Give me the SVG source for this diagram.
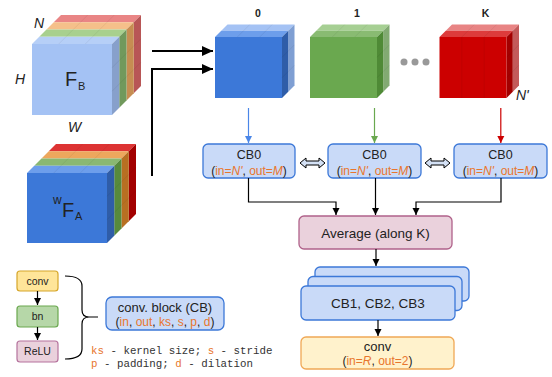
<svg xmlns="http://www.w3.org/2000/svg" width="552" height="377" viewBox="0 0 552 377">
<style>
text{font-family:"Liberation Sans",Arial,sans-serif;fill:#222}
.o{fill:#e8762d}
.it{font-style:italic}
.mono{font-family:"Liberation Mono","Courier New",monospace;font-size:10.8px;fill:#333}
.cb{fill:#c9daf8;stroke:#3c78d8;stroke-width:1.3}
.ln{fill:none;stroke:#000;stroke-width:1.2}
.grid{fill:none;stroke:#000;stroke-opacity:0.08;stroke-width:0.8}
</style>
<defs>
<marker id="ak" markerUnits="userSpaceOnUse" markerWidth="8" markerHeight="8" refX="7" refY="4" orient="auto"><path d="M0,0.5 L7,4 L0,7.5 z" fill="#000"/></marker>
<marker id="akb" markerUnits="userSpaceOnUse" markerWidth="12" markerHeight="10" refX="11" refY="5" orient="auto"><path d="M0,0 L11,5 L0,10 z" fill="#000"/></marker>
<marker id="ab" markerUnits="userSpaceOnUse" markerWidth="8" markerHeight="8" refX="7" refY="4" orient="auto"><path d="M0,0.5 L7,4 L0,7.5 z" fill="#4a86e8"/></marker>
<marker id="ag" markerUnits="userSpaceOnUse" markerWidth="8" markerHeight="8" refX="7" refY="4" orient="auto"><path d="M0,0.5 L7,4 L0,7.5 z" fill="#6aa84f"/></marker>
<marker id="ar" markerUnits="userSpaceOnUse" markerWidth="8" markerHeight="8" refX="7" refY="4" orient="auto"><path d="M0,0.5 L7,4 L0,7.5 z" fill="#cc0000"/></marker>
</defs>

<!-- F_B cube -->
<g id="cube-FB" transform="translate(32,44)">
<polygon points="21.75,-21.75 101.75,-21.75 109,-29 29,-29" fill="#e98585"/>
<polygon points="101.75,-21.75 109,-29 109,42 101.75,49.25" fill="#b85656"/>
<polygon points="14.5,-14.5 94.5,-14.5 101.75,-21.75 21.75,-21.75" fill="#f5c08a"/>
<polygon points="94.5,-14.5 101.75,-21.75 101.75,49.25 94.5,56.5" fill="#c68d52"/>
<polygon points="7.25,-7.25 87.25,-7.25 94.5,-14.5 14.5,-14.5" fill="#a8d08e"/>
<polygon points="87.25,-7.25 94.5,-14.5 94.5,56.5 87.25,63.75" fill="#71995c"/>
<polygon points="0,0 80,0 87.25,-7.25 7.25,-7.25" fill="#b6cff7"/>
<polygon points="80,0 87.25,-7.25 87.25,63.75 80,71" fill="#87a0cb"/>
<rect x="0" y="0" width="80" height="71" fill="#a4c2f4"/>
<path class="grid" d="M26.7,0 L55.7,-29 M53.3,0 L82.3,-29 M80,23.7 L109,-5.3 M80,47.3 L109,18.3"/>
<text x="33" y="42" font-size="20">F</text>
<text x="46" y="46" font-size="11">B</text>
</g>
<text x="34" y="28" font-size="14" class="it">N</text>
<text x="15" y="84" font-size="14" class="it">H</text>
<text x="68" y="132" font-size="14" class="it">W</text>

<!-- wF_A cube -->
<g id="cube-FA" transform="translate(27,173)">
<polygon points="21.75,-21.75 101.75,-21.75 109,-29 29,-29" fill="#dd3333"/>
<polygon points="101.75,-21.75 109,-29 109,41 101.75,48.25" fill="#a30000"/>
<polygon points="14.5,-14.5 94.5,-14.5 101.75,-21.75 21.75,-21.75" fill="#eda75d"/>
<polygon points="94.5,-14.5 101.75,-21.75 101.75,48.25 94.5,55.5" fill="#b86f22"/>
<polygon points="7.25,-7.25 87.25,-7.25 94.5,-14.5 14.5,-14.5" fill="#8ab872"/>
<polygon points="87.25,-7.25 94.5,-14.5 94.5,55.5 87.25,62.75" fill="#578a3c"/>
<polygon points="0,0 80,0 87.25,-7.25 7.25,-7.25" fill="#6d9eeb"/>
<polygon points="80,0 87.25,-7.25 87.25,62.75 80,70" fill="#2f5da8"/>
<rect x="0" y="0" width="80" height="70" fill="#3c78d8"/>
<path class="grid" d="M26.7,0 L55.7,-29 M53.3,0 L82.3,-29 M80,23.3 L109,-5.7 M80,46.7 L109,17.7"/>
<text x="26" y="31" font-size="12">w</text>
<text x="35" y="44" font-size="20">F</text>
<text x="48" y="47" font-size="11">A</text>
</g>

<!-- top cubes -->
<g id="cube-0" transform="translate(215,37)">
<polygon points="6.25,-6.25 73.25,-6.25 79.5,-12.5 12.5,-12.5" fill="#a4c2f4"/>
<polygon points="73.25,-6.25 79.5,-12.5 79.5,48.5 73.25,54.75" fill="#7f9fd3"/>
<polygon points="0,0 67,0 73.25,-6.25 6.25,-6.25" fill="#6d9eeb"/>
<polygon points="67,0 73.25,-6.25 73.25,54.75 67,61" fill="#2f5da8"/>
<rect x="0" y="0" width="67" height="61" fill="#3c78d8"/>
<path class="grid" d="M22.3,0 L34.8,-12.5 M44.7,0 L57.2,-12.5 M67,20.3 L79.5,7.8 M67,40.7 L79.5,28.2"/>
</g>
<text x="258" y="17" font-size="10.5" font-weight="bold" text-anchor="middle">0</text>

<g id="cube-1" transform="translate(310,37)">
<polygon points="6.25,-6.25 73.25,-6.25 79.5,-12.5 12.5,-12.5" fill="#a6cf93"/>
<polygon points="73.25,-6.25 79.5,-12.5 79.5,48.5 73.25,54.75" fill="#82aa72"/>
<polygon points="0,0 67,0 73.25,-6.25 6.25,-6.25" fill="#89bb72"/>
<polygon points="67,0 73.25,-6.25 73.25,54.75 67,61" fill="#4f8a36"/>
<rect x="0" y="0" width="67" height="61" fill="#6aa84f"/>
<path class="grid" d="M22.3,0 L34.8,-12.5 M44.7,0 L57.2,-12.5 M67,20.3 L79.5,7.8 M67,40.7 L79.5,28.2"/>
</g>
<text x="357" y="17" font-size="10.5" font-weight="bold" text-anchor="middle">1</text>

<g id="dots" fill="#999">
<circle cx="404" cy="62" r="3.5"/>
<circle cx="415" cy="62" r="3.5"/>
<circle cx="426" cy="62" r="3.5"/>
</g>

<g id="cube-K" transform="translate(439.5,37)">
<polygon points="6.25,-6.25 73.25,-6.25 79.5,-12.5 12.5,-12.5" fill="#e88484"/>
<polygon points="73.25,-6.25 79.5,-12.5 79.5,48.5 73.25,54.75" fill="#c35a5a"/>
<polygon points="0,0 67,0 73.25,-6.25 6.25,-6.25" fill="#dd3b3b"/>
<polygon points="67,0 73.25,-6.25 73.25,54.75 67,61" fill="#a30000"/>
<rect x="0" y="0" width="67" height="61" fill="#cc0000"/>
<path class="grid" d="M22.3,0 L22.3,61 M44.7,0 L44.7,61 M22.3,0 L34.8,-12.5 M44.7,0 L57.2,-12.5 M67,20.3 L79.5,7.8 M67,40.7 L79.5,28.2"/>
</g>
<text x="485.5" y="17" font-size="10.5" font-weight="bold" text-anchor="middle">K</text>
<text x="516" y="100" font-size="14" class="it">N'</text>

<!-- nodes -->
<g id="cb0-1">
<rect class="cb" x="203" y="144" width="92" height="34" rx="5"/>
<text x="249" y="158.5" font-size="12.5" text-anchor="middle">CB0</text>
<text x="249" y="174.5" font-size="12" text-anchor="middle">(<tspan class="o">in=</tspan><tspan class="o it">N'</tspan>, <tspan class="o">out=</tspan><tspan class="o it">M</tspan>)</text>
</g>
<g id="cb0-2">
<rect class="cb" x="328" y="144" width="93" height="34" rx="5"/>
<text x="374.5" y="158.5" font-size="12.5" text-anchor="middle">CB0</text>
<text x="374.5" y="174.5" font-size="12" text-anchor="middle">(<tspan class="o">in=</tspan><tspan class="o it">N'</tspan>, <tspan class="o">out=</tspan><tspan class="o it">M</tspan>)</text>
</g>
<g id="cb0-3">
<rect class="cb" x="454" y="144" width="93" height="34" rx="5"/>
<text x="500.5" y="158.5" font-size="12.5" text-anchor="middle">CB0</text>
<text x="500.5" y="174.5" font-size="12" text-anchor="middle">(<tspan class="o">in=</tspan><tspan class="o it">N'</tspan>, <tspan class="o">out=</tspan><tspan class="o it">M</tspan>)</text>
</g>
<g id="average">
<rect x="299" y="216" width="153" height="33" rx="5" fill="#ead1dc" stroke="#b0628a" stroke-width="1.3"/>
<text x="375.5" y="237.5" font-size="13.5" text-anchor="middle">Average (along K)</text>
</g>
<g id="cb123">
<rect class="cb" x="315" y="267" width="154" height="34" rx="5"/>
<rect class="cb" x="308" y="276.5" width="154" height="34" rx="5"/>
<rect class="cb" x="301" y="286" width="154" height="34" rx="5"/>
<text x="378" y="308" font-size="13.5" text-anchor="middle">CB1, CB2, CB3</text>
</g>
<g id="conv-out">
<rect x="301" y="337" width="153" height="32" rx="5" fill="#fff2cc" stroke="#f0a856" stroke-width="1.3"/>
<text x="377.5" y="351" font-size="13" text-anchor="middle">conv</text>
<text x="377.5" y="365" font-size="12" text-anchor="middle">(<tspan class="o">in=</tspan><tspan class="o it">R</tspan>, <tspan class="o">out=2</tspan>)</text>
</g>

<!-- legend -->
<g id="leg-conv">
<rect x="17" y="271" width="41" height="20" rx="3" fill="#ffe599" stroke="#d6a62a" stroke-width="1.2"/>
<text x="37.5" y="284.5" font-size="10.5" text-anchor="middle">conv</text>
</g>
<g id="leg-bn">
<rect x="17" y="306" width="41" height="21" rx="3" fill="#b6d7a8" stroke="#6aa84f" stroke-width="1.2"/>
<text x="37.5" y="320" font-size="10.5" text-anchor="middle">bn</text>
</g>
<g id="leg-relu">
<rect x="17" y="341" width="41" height="21" rx="3" fill="#ead1dc" stroke="#b5739d" stroke-width="1.2"/>
<text x="37.5" y="355" font-size="10.5" text-anchor="middle">ReLU</text>
</g>
<g id="conv-block">
<rect x="106" y="297" width="118" height="33" rx="6" fill="#c9daf8" stroke="#3c78d8" stroke-width="1.3"/>
<text x="165" y="312" font-size="13" text-anchor="middle">conv. block (CB)</text>
<text x="165" y="326" font-size="12" text-anchor="middle">(<tspan class="o">in</tspan>, <tspan class="o">out</tspan>, <tspan class="o">ks</tspan>, <tspan class="o">s</tspan>, <tspan class="o">p</tspan>, <tspan class="o">d</tspan>)</text>
</g>
<text class="mono" x="91" y="354"><tspan class="o">ks</tspan> - kernel size; <tspan class="o">s</tspan> - stride</text>
<text class="mono" x="91" y="367"><tspan class="o">p</tspan> - padding; <tspan class="o">d</tspan> - dilation</text>

<!-- connectors -->
<g id="connectors">
<path d="M152,51 L213,51" fill="none" stroke="#000" stroke-width="2" marker-end="url(#akb)"/>
<path d="M152,176 L152,69 L213,69" fill="none" stroke="#000" stroke-width="2" marker-end="url(#akb)"/>
<path d="M248.5,108 L248.5,143" fill="none" stroke="#4a86e8" stroke-width="1.2" marker-end="url(#ab)"/>
<path d="M374.5,108 L374.5,143" fill="none" stroke="#6aa84f" stroke-width="1.2" marker-end="url(#ag)"/>
<path d="M500.8,108 L500.8,143" fill="none" stroke="#cc0000" stroke-width="1.2" marker-end="url(#ar)"/>
<polygon points="300,163 306,158 306,161 319,161 319,158 325,163 319,168 319,165 306,165 306,168" fill="#d4e1f5" stroke="#000" stroke-width="1"/>
<polygon points="425,163 431,158 431,161 444,161 444,158 450,163 444,168 444,165 431,165 431,168" fill="#d4e1f5" stroke="#000" stroke-width="1"/>
<path class="ln" d="M248.5,178 L248.5,202 L336,202 L336,215" marker-end="url(#ak)"/>
<path class="ln" d="M375.5,178 L375.5,215" marker-end="url(#ak)"/>
<path class="ln" d="M501,178 L501,202 L416,202 L416,215" marker-end="url(#ak)"/>
<path class="ln" d="M376,249 L376,266" marker-end="url(#ak)"/>
<path class="ln" d="M378,320 L378,336" marker-end="url(#ak)"/>
<path class="ln" d="M37.5,291 L37.5,305" marker-end="url(#ak)"/>
<path class="ln" d="M37.5,327 L37.5,340" marker-end="url(#ak)"/>
<path class="ln" d="M65,276 Q82,276 82,286 L82,310 Q82,317 89,317 L98,317 M89,317 Q82,317 82,324 L82,349 Q82,359 65,359"/>
</g>
</svg>
